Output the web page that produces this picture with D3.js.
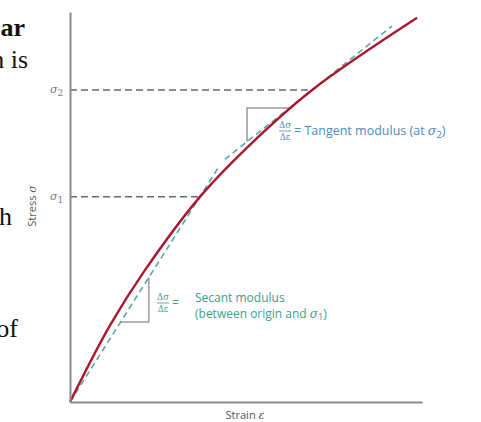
<!DOCTYPE html>
<html lang="en">
<head>
<meta charset="UTF-8">
<title>Secant and tangent modulus</title>
<script src="https://cdn.jsdelivr.net/npm/d3@7"></script>
<style type="text/css">
	body{ margin: 0; background: #fff; }
	.page text { font-family: "Liberation Serif", serif; font-size: 26px; fill: #111 }
	.axis path { fill: none; stroke: #8a8a8a; stroke-width: 2px }
	.label { font-family: "Open Sans", sans-serif; font-size: 11px; fill: #555 }
	.tick-sym { font-family: "DejaVu Serif", serif; font-style: italic; font-size: 11px; fill: #777 }
	.guide { fill: none; stroke: #6a6a6a; stroke-width: 1.5px; stroke-dasharray: 7,4 }
	.tri { fill: none; stroke: #9a9a9a; stroke-width: 1.5px }
	.modline { fill: none; stroke: #5fa3a3; stroke-width: 1.6px; stroke-dasharray: 6,4 }
	.curve { fill: none; stroke: #a8192e; stroke-width: 2.4px }
</style>
</head>
<body>
<script type="text/javascript">

	// stress-strain curve, arbitrary units 0..100
	var strain = [0, 11.4, 21.3, 36.9, 50.6, 68.8, 98.6];
	var stress = [0, 19.7, 33.8, 52.6, 65.5, 80.0, 98.5];

	var sigma1 = {strain: 36.9, stress: 52.6};
	var sigma2 = {strain: 68.8, stress: 80.0};

	// dashed modulus lines [strain, stress]
	var secantLine = [[0, 0], [42.0, 59.9]];
	var tangentLine = [[44.0, 62.2], [91.5, 96.4]];

	// slope triangles
	var secantTri = [[14.4, 20.5], [22.4, 20.5], [22.4, 31.9]];
	var tangentTri = [[50.3, 66.7], [50.3, 75.4], [62.4, 75.4]];

	// clipped text of the page next to the figure
	var pageWords = [
		{t: 'ar', x: 25, y: 36, bold: true},
		{t: 'n is', x: 28, y: 68},
		{t: 'h', x: 12, y: 225},
		{t: 'of', x: 18, y: 337}
	];

	var W = 481, H = 422;
	var xScale = d3.scaleLinear().domain([0, 100]).range([70, 422]);
	var yScale = d3.scaleLinear().domain([0, 100]).range([402, 12]);

	var svg = d3.select('body')
		.append('svg')
		.attr('width', W)
		.attr('height', H);

	svg.append('g').attr('class', 'page')
		.selectAll('text')
		.data(pageWords)
		.enter().append('text')
		.attr('x', d => d.x)
		.attr('y', d => d.y)
		.attr('text-anchor', 'end')
		.style('font-weight', d => d.bold ? 'bold' : 'normal')
		.text(d => d.t);

	var line = d3.line().x(d => xScale(d[0])).y(d => yScale(d[1]));

	// guide lines at sigma1 / sigma2
	[sigma1, sigma2].forEach(s => {
		svg.append('path').attr('class', 'guide')
			.attr('d', line([[0, s.stress], [s.strain, s.stress]]));
	});

	svg.append('path').attr('class', 'tri').attr('d', line(secantTri));
	svg.append('path').attr('class', 'tri').attr('d', line(tangentTri));

	svg.append('path').attr('class', 'modline').attr('d', line(secantLine));
	svg.append('path').attr('class', 'modline').attr('d', line(tangentLine));

	var pts = strain.map((s, i) => [s, stress[i]]);
	svg.append('path').attr('class', 'curve')
		.attr('d', d3.line().x(d => xScale(d[0])).y(d => yScale(d[1])).curve(d3.curveCatmullRom.alpha(0.5))(pts));

	// axes, no ticks
	svg.append('g').attr('class', 'axis')
		.attr('transform', 'translate(0,' + yScale(0) + ')')
		.call(d3.axisBottom(xScale).tickValues([]).tickSizeOuter(0));
	svg.append('g').attr('class', 'axis')
		.attr('transform', 'translate(' + xScale(0) + ',0)')
		.call(d3.axisLeft(yScale).tickValues([]).tickSizeOuter(0));

	// sigma tick labels
	[[sigma1, '1'], [sigma2, '2']].forEach(p => {
		var t = svg.append('text').attr('class', 'tick-sym')
			.attr('x', 50).attr('y', yScale(p[0].stress) + 3);
		t.append('tspan').text('σ');
		t.append('tspan').attr('dy', 3).style('font-style', 'normal').style('font-size', '9px').text(p[1]);
	});

	svg.append('text').attr('class', 'label')
		.attr('transform', 'translate(36,206) rotate(-90)')
		.attr('text-anchor', 'middle')
		.text('Stress ')
		.append('tspan').style('font-family', 'DejaVu Serif').style('font-style', 'italic').text('σ');

	svg.append('text').attr('class', 'label')
		.attr('x', 245).attr('y', 419)
		.attr('text-anchor', 'middle')
		.text('Strain ')
		.append('tspan').style('font-family', 'DejaVu Serif').style('font-style', 'italic').text('ε');

	function fraction(x, y, color) {
		var g = svg.append('g').style('fill', color);
		g.append('text').attr('x', x).attr('y', y - 3).attr('text-anchor', 'middle')
			.style('font-family', 'DejaVu Serif').style('font-size', '8.5px').text('Δσ');
		g.append('line').attr('x1', x - 6).attr('x2', x + 6).attr('y1', y).attr('y2', y)
			.style('stroke', color).style('stroke-width', 0.8);
		g.append('text').attr('x', x).attr('y', y + 9).attr('text-anchor', 'middle')
			.style('font-family', 'DejaVu Serif').style('font-size', '8.5px').text('Δε');
	}

	var blue = '#4a8cc0', teal = '#3d9e8c';

	fraction(285, 131, blue);
	var tl = svg.append('text').attr('class', 'label').style('fill', blue)
		.style('font-size', '12.5px')
		.attr('x', 294).attr('y', 135)
		.text('= Tangent modulus (at ');
	tl.append('tspan').style('font-family', 'DejaVu Serif').style('font-style', 'italic').text('σ');
	tl.append('tspan').attr('dy', 3).style('font-size', '9.5px').text('2');
	tl.append('tspan').attr('dy', -3).text(')');

	fraction(163, 303, teal);
	svg.append('text').attr('class', 'label').style('fill', teal).style('font-size', '12px')
		.attr('x', 172).attr('y', 307).text('=');
	svg.append('text').attr('class', 'label').style('fill', teal).style('font-size', '12px')
		.attr('x', 195).attr('y', 302).text('Secant modulus');
	var sl = svg.append('text').attr('class', 'label').style('fill', teal).style('font-size', '12px')
		.attr('x', 195).attr('y', 318)
		.text('(between origin and ');
	sl.append('tspan').style('font-family', 'DejaVu Serif').style('font-style', 'italic').text('σ');
	sl.append('tspan').attr('dy', 2).style('font-size', '9px').text('1');
	sl.append('tspan').attr('dy', -2).text(')');

</script>
</body>
</html>
